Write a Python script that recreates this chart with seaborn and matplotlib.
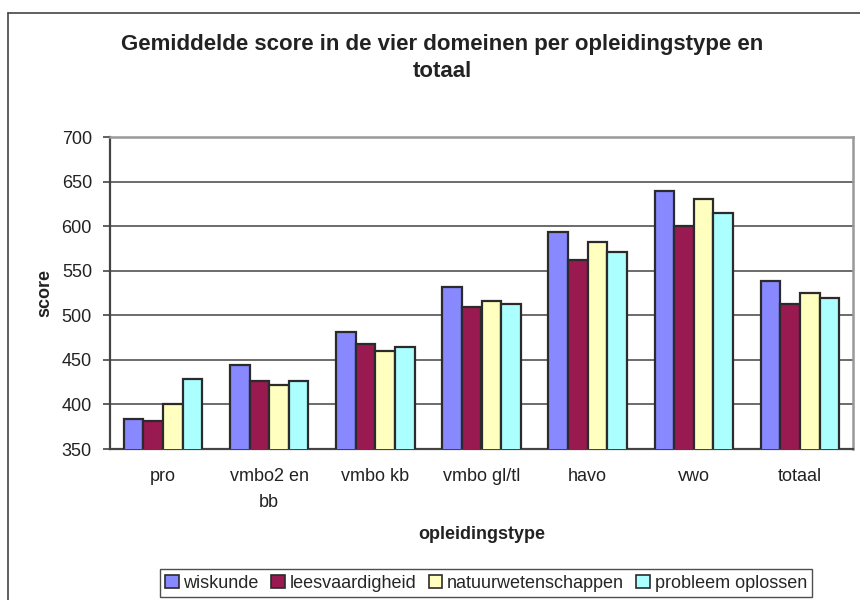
import numpy as np
import pandas as pd
import matplotlib
matplotlib.use("Agg")
import matplotlib.pyplot as plt
import seaborn as sns
from matplotlib.lines import Line2D
from matplotlib.patches import Patch

# data
categories = ["pro", "vmbo2 en\nbb", "vmbo kb", "vmbo gl/tl", "havo", "vwo", "totaal"]
domains = ["wiskunde", "leesvaardigheid", "natuurwetenschappen", "probleem oplossen"]
wiskunde = [384, 444, 481, 532, 593, 639, 538]
leesvaardigheid = [381, 426, 468, 509, 562, 600, 513]
natuurwetenschappen = [400, 422, 460, 516, 582, 630, 525]
probleem_oplossen = [429, 426, 464, 513, 571, 615, 519]
colors = ["#8888FF", "#991A50", "#FFFFBF", "#ABFFFF"]

values = [wiskunde, leesvaardigheid, natuurwetenschappen, probleem_oplossen]
df = pd.DataFrame({
    "opleidingstype": categories * len(domains),
    "domein": [d for d in domains for _ in categories],
    "score": [v for series in values for v in series],
})

sns.set_style("white")
plt.rcParams["font.family"] = ["Liberation Sans", "DejaVu Sans"]

fig = plt.figure(figsize=(8.6, 6.0), dpi=100)
ax = fig.add_axes([110 / 860, 1 - 449 / 600, (853 - 110) / 860, (449 - 137) / 600])

sns.barplot(data=df, x="opleidingstype", y="score", hue="domein",
            order=categories, hue_order=domains, palette=colors, saturation=1,
            width=0.74, edgecolor="#2b2b2b", linewidth=1.6, ax=ax,
            legend=False, zorder=3)

ax.set_ylim(350, 700)
ax.set_yticks(np.arange(350, 701, 50))
ax.yaxis.grid(True, color="#444444", linewidth=1.1, zorder=0)
ax.set_axisbelow(True)
ax.set_xlim(-0.5, len(categories) - 0.5)

ax.set_xticks(np.arange(len(categories)))
ax.set_xticklabels(categories, linespacing=1.65)
ax.set_xticks(np.arange(-0.5, len(categories), 1), minor=True)
ax.tick_params(axis="x", which="major", length=0, pad=14, labelsize=13, colors="#222222")
ax.tick_params(axis="x", which="minor", length=5, width=1.2, color="#444444", direction="out")
ax.tick_params(axis="y", length=5, width=1.2, color="#444444", direction="out", labelsize=13,
               labelcolor="#222222", left=True, pad=8)

for side in ["top", "right"]:
    ax.spines[side].set_color("#999999")
    ax.spines[side].set_linewidth(1.8)
for side in ["left", "bottom"]:
    ax.spines[side].set_color("#444444")
    ax.spines[side].set_linewidth(1.6)

ax.set_xlabel("opleidingstype", fontsize=13, fontweight="bold", labelpad=11, color="#222222")
ax.set_ylabel("score", fontsize=13, fontweight="bold", labelpad=6, color="#222222")

fig.text(442 / 860, 1 - 58 / 600, "Gemiddelde score in de vier domeinen per opleidingstype en\ntotaal",
         ha="center", va="center", fontsize=16, fontweight="bold", color="#222222",
         linespacing=1.4)

handles = [Patch(facecolor=c, edgecolor="#2b2b2b", linewidth=1.2) for c in colors]
leg = fig.legend(handles, domains, loc="center", bbox_to_anchor=(486 / 860, 1 - 583 / 600),
                 ncol=4, frameon=True, fancybox=False, edgecolor="#222222", fontsize=13,
                 handlelength=0.75, handleheight=0.75, handletextpad=0.25, columnspacing=0.7,
                 borderpad=0.3)
leg.get_frame().set_linewidth(1.0)

# outer chart frame (only left and top edges are visible in the image)
fig.add_artist(Line2D([8 / 860, 8 / 860], [0, 1 - 13 / 600], transform=fig.transFigure,
                      color="#444444", linewidth=1.2))
fig.add_artist(Line2D([8 / 860, 1], [1 - 13 / 600, 1 - 13 / 600], transform=fig.transFigure,
                      color="#444444", linewidth=1.2))

fig.savefig("out.png", dpi=100)
